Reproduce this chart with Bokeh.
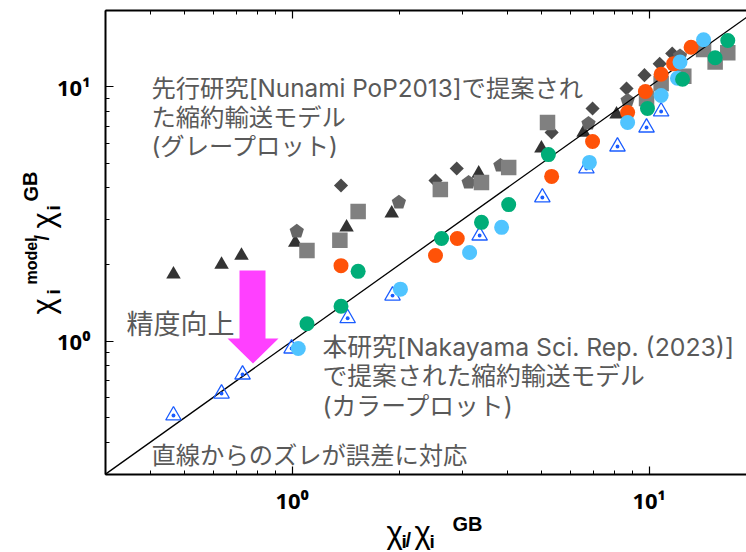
from bokeh.plotting import figure
from bokeh.models import FixedTicker, Label, PolyAnnotation, LogAxis
from bokeh.embed import file_html
from bokeh.resources import INLINE

# ---------------- data ----------------
AXIS_MIN = 0.3          # lower-left corner of the axes box (both axes)
MAJOR_TICKS = [1, 10]
MAJOR_LABELS = {1: "10⁰", 10: "10¹"}
MINOR_TICKS = [0.3, 0.4, 0.5, 0.6, 0.7, 0.8, 0.9, 2, 3, 4, 5, 6, 7, 8, 9, 20]
IDENTITY = [0.3, 20.0]

# previous model (gray markers)
tri_x = [0.465, 0.634, 0.721, 1.02, 1.42, 1.90, 3.33, 4.99, 6.55, 8.10]
tri_y = [1.83, 2.00, 2.17, 2.44, 2.80, 3.18, 4.56, 5.72, 6.61, 7.78]
dia_x = [1.37, 2.52, 2.89, 5.33, 6.94, 8.64, 9.70, 10.7, 11.6]
dia_y = [4.09, 4.28, 4.77, 6.61, 8.21, 9.84, 11.1, 12.3, 13.5]
pent_x = [1.03, 1.99, 3.12, 3.83, 6.76, 8.70, 12.2]
pent_y = [2.70, 3.51, 4.20, 4.90, 7.17, 8.83, 13.2]
sq_x = [1.10, 1.36, 1.53, 2.60, 3.39, 4.04, 5.19, 9.83, 10.8, 12.5, 14.2, 15.3, 16.6]
sq_y = [2.27, 2.49, 3.23, 3.94, 4.20, 4.81, 7.23, 8.99, 10.3, 11.0, 14.0, 12.5, 13.6]

# present model (colored markers)
org_x = [1.37, 2.52, 2.90, 5.33, 6.94, 8.70, 9.76, 10.8, 11.7, 13.1]
org_y = [1.98, 2.17, 2.53, 4.44, 6.09, 7.91, 9.57, 11.2, 12.3, 14.3]
grn_x = [1.10, 1.37, 1.53, 2.62, 3.39, 4.04, 5.22, 9.89, 12.4, 15.3, 16.6]
grn_y = [1.17, 1.37, 1.88, 2.53, 2.93, 3.44, 5.41, 8.21, 10.7, 13.0, 15.2]
lb_x = [1.04, 2.01, 3.14, 3.86, 6.80, 8.70, 10.8, 12.0, 12.2, 14.2]
lb_y = [0.935, 1.60, 2.23, 2.80, 5.04, 7.23, 9.24, 10.8, 12.5, 15.3]
bt_x = [0.465, 0.634, 0.726, 0.996, 1.43, 1.91, 3.35, 5.02, 6.67, 8.15, 9.83, 10.8]
bt_y = [0.510, 0.622, 0.739, 0.935, 1.23, 1.51, 2.60, 3.67, 4.77, 5.82, 6.91, 7.99]

TEXT_PREV = ["先行研究[Nunami PoP2013]で提案され", "た縮約輸送モデル", "(グレープロット)"]
TEXT_NEW = ["本研究[Nakayama Sci. Rep. (2023)]", "で提案された縮約輸送モデル", "(カラープロット)"]
TEXT_ARROW = "精度向上"
TEXT_DEV = "直線からのズレが誤差に対応"

# ---------------- geometry (pixels of the 746x552 canvas) ----------------
W, H = 746, 552
X_ONE_PX, X_DEC_PX = 291.7, 357.0   # x position of 1, pixels per decade
Y_ONE_PX, Y_DEC_PX = 340.6, 254.4   # y position of 1, pixels per decade
BOX_TOP_PX = 10
MID_SHIFT = 0.35   # Bokeh's "middle" anchor sits ~0.35 em above the baseline


def dx(px):
    return 10 ** ((px - X_ONE_PX) / X_DEC_PX)


def dy(py):
    return 10 ** ((Y_ONE_PX - py) / Y_DEC_PX)


def sx(px):
    return px


def sy(py):
    return H - py


X_END = dx(W)
Y_TOP = dy(BOX_TOP_PX)

p = figure(width=W, height=H, x_axis_type="log", y_axis_type="log",
           x_range=(dx(0), dx(W)), y_range=(dy(H), dy(0)), output_backend="svg",
           toolbar_location=None, min_border=0, min_border_left=0, min_border_right=0,
           min_border_top=0, min_border_bottom=0)
p.outline_line_color = None
p.grid.visible = False
p.background_fill_color = "white"
p.border_fill_color = "white"

TICK_FONT = "Noto Sans"


def style_axis(ax, labels=True):
    ax.ticker = FixedTicker(ticks=MAJOR_TICKS, minor_ticks=MINOR_TICKS)
    ax.major_tick_in = 8
    ax.major_tick_out = 0
    ax.minor_tick_in = 4
    ax.minor_tick_out = 0
    ax.axis_line_width = 2
    ax.axis_line_color = "black"
    ax.major_tick_line_width = 1.2
    ax.minor_tick_line_width = 1
    ax.major_tick_line_color = "black"
    ax.minor_tick_line_color = "black"
    if labels:
        ax.major_label_overrides = MAJOR_LABELS
        ax.major_label_text_font = TICK_FONT
        ax.major_label_text_font_size = "22px"
        ax.major_label_text_font_style = "bold"
        ax.major_label_text_color = "black"
    else:
        ax.major_label_overrides = {1: "", 10: ""}
        ax.major_label_text_font_size = "1px"
        ax.major_label_standoff = 0


xax = p.xaxis[0]
yax = p.yaxis[0]
style_axis(xax)
style_axis(yax)
xax.fixed_location = AXIS_MIN
xax.bounds = (AXIS_MIN, X_END)
xax.major_label_standoff = 11
yax.fixed_location = AXIS_MIN
yax.bounds = (AXIS_MIN, Y_TOP)
yax.major_label_standoff = 15

top = LogAxis()
style_axis(top, labels=False)
top.fixed_location = Y_TOP
top.bounds = (AXIS_MIN, X_END)
p.add_layout(top, "above")

# ---------------- glyphs ----------------
p.scatter(tri_x, tri_y, marker="triangle", size=14.5, fill_color="#333333", line_color=None)
p.scatter(dia_x, dia_y, marker="square", angle=0.7854, size=10, fill_color="#4a4a4a", line_color=None)
try:
    p.ngon(x=pent_x, y=pent_y, radius=7.5, radius_units="screen", n=5,
           fill_color="#666666", line_color=None)
except Exception:
    p.scatter(pent_x, pent_y, marker="hex", size=14, fill_color="#666666", line_color=None)
p.scatter(sq_x, sq_y, marker="square", size=15.5, fill_color="#808080", line_color=None)

p.line(IDENTITY, IDENTITY, line_color="black", line_width=1.3)

p.scatter(bt_x, bt_y, marker="triangle_dot", size=15.5, fill_color=None,
          line_color="#1a5cff", line_width=1.3)
p.scatter(org_x, org_y, marker="circle", size=15, fill_color="#ff5208", line_color=None)
p.scatter(lb_x, lb_y, marker="circle", size=15, fill_color="#50c4ff", line_color=None)
p.scatter(grn_x, grn_y, marker="circle", size=15, fill_color="#00ad78", line_color=None)

# ---------------- arrow ----------------
arrow_px = [239, 265, 265, 278, 252.5, 227, 239]
arrow_py = [270, 270, 338, 338, 363, 338, 338]
p.add_layout(PolyAnnotation(xs=[sx(v) for v in arrow_px], ys=[sy(v) for v in arrow_py],
                            xs_units="screen", ys_units="screen",
                            fill_color="#ff40ff", fill_alpha=1.0, line_color=None))

# ---------------- annotations ----------------
ANN_FONT = "Inter, Noto Sans CJK JP"
ANN_COLOR = "#595959"


def add_text(txt, px, py, size=24.3, color=ANN_COLOR, font=ANN_FONT, angle=0.0, style="normal"):
    p.add_layout(Label(x=sx(px), y=sy(py), x_units="screen", y_units="screen", text=txt,
                       text_font=font, text_font_size=f"{size}px", text_color=color,
                       text_align="left", text_baseline="middle", angle=angle,
                       text_font_style=style))


for i, t in enumerate(TEXT_PREV):
    add_text(t, 151, 87 + 29 * i)
for i, t in enumerate(TEXT_NEW):
    add_text(t, 322, 346 + 29.5 * i, size=24.8)
add_text(TEXT_ARROW, 126, 324, size=27)
add_text(TEXT_DEV, 151, 454)

# axis labels built from pieces, positioned by their baselines
AX_FONT = "Liberation Sans"
ROT = 1.5708


def add_math(txt, px, py, size, rotated=False, style="normal"):
    if rotated:   # px = baseline position, py = start of the text (text reads upwards)
        add_text(txt, px - MID_SHIFT * size, py, size=size, color="black", font=AX_FONT,
                 angle=ROT, style=style)
    else:         # px = start of the text, py = baseline position
        add_text(txt, px, py - MID_SHIFT * size, size=size, color="black", font=AX_FONT,
                 style=style)


# y label: chi_i^model / chi_i^GB
add_math("χ", 54, 314, 31, rotated=True)
add_math("i", 60, 294, 19, rotated=True, style="bold")
add_math("model", 37, 284, 16, rotated=True, style="bold")
add_math("/", 48, 240, 20, rotated=True, style="bold")
add_math("χ", 54, 228, 31, rotated=True)
add_math("i", 60, 210, 19, rotated=True, style="bold")
add_math("GB", 37, 201, 20, rotated=True, style="bold")
# x label: chi_i / chi_i^GB
add_math("χ", 386, 543, 31)
add_math("i", 401, 548, 19, style="bold")
add_math("/", 405, 546, 20, style="bold")
add_math("χ", 414, 543, 31)
add_math("i", 429, 548, 19, style="bold")
add_math("GB", 452, 530, 20, style="bold")

open("out.html", "w").write(file_html(p, INLINE))
